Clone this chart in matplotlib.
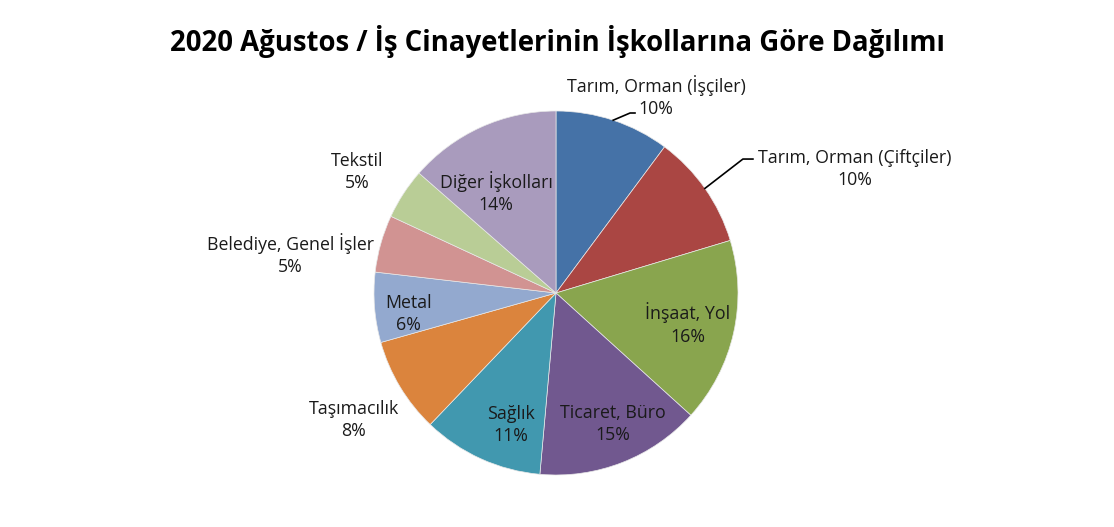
import numpy as np
import matplotlib
matplotlib.use("Agg")
import matplotlib.pyplot as plt

plt.rcParams['font.family'] = ['Open Sans', 'DejaVu Sans']

# veriler (kişi sayısı, grafikten okunan oranlara göre)
categories = ['Tarım, Orman (İşçiler)', 'Tarım, Orman (Çiftçiler)', 'İnşaat, Yol',
              'Ticaret, Büro', 'Sağlık', 'Taşımacılık', 'Metal',
              'Belediye, Genel İşler', 'Tekstil', 'Diğer İşkolları']
values = [18, 18, 29, 26, 19, 15, 11, 9, 8, 24]
colors = ['#4572A7', '#AA4643', '#89A54E', '#71588F', '#4198AF',
          '#DB843D', '#93A9CF', '#D19392', '#B9CD96', '#A99BBD']
title = '2020 Ağustos / İş Cinayetlerinin İşkollarına Göre Dağılımı'

# etiket yerleşimi (yarıçap birimiyle)
label_xy = [(0.55, 1.08), (1.64, 0.68), (0.725, -0.17), (0.31, -0.72),
            (-0.25, -0.725), (-1.11, -0.70), (-0.81, -0.115), (-1.46, 0.21),
            (-1.09, 0.665), (-0.33, 0.55)]
leader_elbow = {0: [(0.407, 0.989), (0.434, 0.989)],
                1: [(1.027, 0.736), (1.082, 0.736)]}

W, H = 1114, 527
fig = plt.figure(figsize=(W / 100, H / 100), dpi=100)
cx, cy, r = 556, 293, 182
ax = fig.add_axes([(cx - r) / W, (H - cy - r) / H, 2 * r / W, 2 * r / H])

wedges, _ = ax.pie(values, colors=colors, startangle=90, counterclock=False,
                   radius=1, wedgeprops=dict(linewidth=0.5, edgecolor='#e8e8e8'))
ax.set_xlim(-1, 1)
ax.set_ylim(-1, 1)
ax.set_aspect('equal')
ax.axis('off')

total = sum(values)
for i, (cat, v) in enumerate(zip(categories, values)):
    pct = round(100 * v / total)
    x, y = label_xy[i]
    ax.text(x, y, f'{cat}\n{pct}%', ha='center', va='center', fontsize=12.8,
            linespacing=1.3, color='#1a1a1a', clip_on=False)
    if i in leader_elbow:
        w = wedges[i]
        mid = np.deg2rad((w.theta1 + w.theta2) / 2)
        pts = [(np.cos(mid), np.sin(mid))] + leader_elbow[i]
        ax.plot([p[0] for p in pts], [p[1] for p in pts], color='black',
                lw=1.2, clip_on=False)

fig.text(0.5, (H - 42) / H, title, ha='center', va='center', fontsize=19.8,
         fontweight='bold')

fig.savefig('out.png', dpi=100)
